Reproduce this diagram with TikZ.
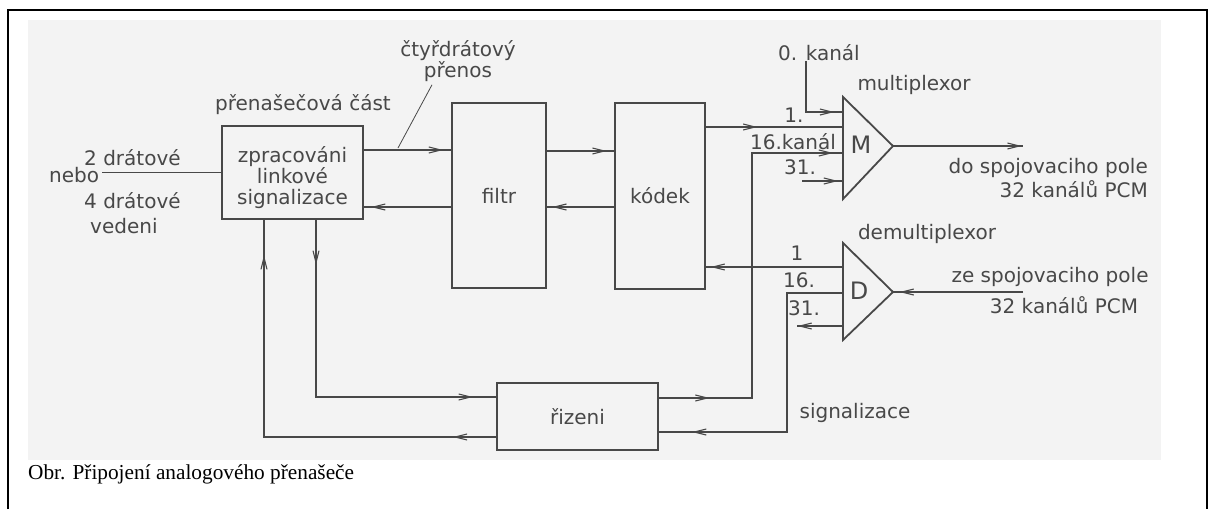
\documentclass[tikz,border=0pt]{standalone}
\usepackage{fontspec}
\setmainfont{Liberation Serif}
\newfontfamily\techfont{DejaVu Sans}
\usetikzlibrary{arrows.meta, positioning, calc, decorations.markings}
\definecolor{ink}{RGB}{72,72,72}
\definecolor{scan}{RGB}{243,243,243}

\tikzset{
  blok/.style={draw=ink, line width=1.8pt, inner sep=0pt, outer sep=0pt},
  lbl/.style={text=ink, font=\techfont\fontsize{20}{21}\selectfont, inner sep=0pt},
  wire/.style={draw=ink, line width=1.1pt},
  arr/.style={postaction={decorate, decoration={markings,
      mark=at position #1 with {\arrow{Straight Barb[length=12pt,width=6pt,line width=1.1pt]}}}}},
}

\begin{document}
\begin{tikzpicture}[x=1pt, y=-1pt]
  \useasboundingbox (0,0) rectangle (1209,509);
  \fill[scan] (28,20) rectangle (1161,460);
  \draw[line width=2pt] (8,509) -- (8,10) -- (1207,10) -- (1207,509);

  % bloky
  \node[blok, minimum width=141pt, minimum height=93pt] (zpr) at (292.5,172.5) {};
  \node[lbl, align=center] (zprtxt) at (292.5,178) {zpracováni\\linkové\\signalizace};
  \node[blok, lbl, minimum width=94pt, minimum height=185pt] (filtr) at (499,195.5) {filtr};
  \node[blok, lbl, minimum width=90pt, minimum height=186pt] (kodek) at (660,196) {kódek};
  \node[blok, lbl, minimum width=161pt, minimum height=67pt] (rizeni) at (577.5,416.5) {řizeni};

  % multiplexor a demultiplexor
  \coordinate (mux) at (843,146);
  \coordinate (mtip) at (893,146);
  \draw[blok, line join=miter] (843,97) -- (mtip) -- (843,199) -- cycle;
  \node[lbl, font=\techfont\fontsize{24}{26}\selectfont] (mm) at (861,145) {M};
  \coordinate (demux) at (843,292);
  \coordinate (dtip) at (893,292);
  \draw[blok, line join=miter] (843,243) -- (dtip) -- (843,340) -- cycle;
  \node[lbl, font=\techfont\fontsize{24}{26}\selectfont] (dd) at (859,291) {D};

  % popisy vlevo
  \node[lbl, anchor=base west] (dva) at (84,165) {2 drátové};
  \node[lbl, anchor=base west] (nebo) at (49,182) {nebo};
  \node[lbl, anchor=base west] (ctyri) at (84,208) {4 drátové};
  \node[lbl, anchor=base west] (vedeni) at (90,233) {vedeni};
  \node[lbl] (cast) at (303,105) {přenašečová část};
  \node[lbl, align=center] (prenos) at (458,61) {čtyřdrátový\\přenos};

  % popisy vpravo
  \node[lbl] (k0) at (819,53) {0. kanál};
  \node[lbl] (multi) at (914,85) {multiplexor};
  \node[lbl] (m1) at (794,115) {1.};
  \node[lbl] (m16) at (793,142) {16.kanál};
  \node[lbl] (m31) at (800,167) {31.};
  \node[lbl, anchor=east] (dopole) at (1148,168) {do spojovaciho pole};
  \node[lbl, anchor=east] (dopcm) at (1148,189) {32 kanálů PCM};
  \node[lbl] (demulti) at (927,234) {demultiplexor};
  \node[lbl] (d1) at (797,253) {1};
  \node[lbl] (d16) at (799,280) {16.};
  \node[lbl] (d31) at (804,308) {31.};
  \node[lbl] (zepole) at (1050,277) {ze spojovaciho pole};
  \node[lbl] (zepcm) at (1064,305) {32 kanálů PCM};
  \node[lbl] (sig) at (855,413) {signalizace};

  \node[anchor=base west, font=\fontsize{21.3}{24}\selectfont, inner sep=0pt] (obr) at (28,479) {Obr. Připojení analogového přenašeče};

  % spoje
  \coordinate (leader) at (398,148);
  \coordinate (in31) at (802,181);
  \coordinate (mout) at (1023,146);
  \coordinate (din) at (1023,292);
  \coordinate (out31) at (797,326);
  \draw[wire] ([xshift=3pt]nebo.east |- zpr.west) -- (zpr.west);
  \draw[ink, line width=0.8pt] ([xshift=-26pt,yshift=-3pt]prenos.south) -- (leader);
  \draw[wire, arr=0.9] (zpr.east |- 0,150) -- (filtr.west |- 0,150);
  \draw[wire, arr=0.91] (filtr.west |- 0,207) -- (zpr.east |- 0,207);
  \draw[wire, arr=0.88] (filtr.east |- 0,151) -- (kodek.west |- 0,151);
  \draw[wire, arr=0.91] (kodek.west |- 0,207) -- (filtr.east |- 0,207);
  \draw[wire, arr=0.38] (kodek.east |- 0,127) -- (mux |- 0,127);
  \draw[wire, arr=0.9] ([xshift=-13pt]k0.south) |- (mux |- 0,112);
  \draw[wire, arr=0.12, arr=0.977] ([yshift=18.5pt]rizeni.east) -| (752,153) -- (mux |- 0,153);
  \draw[wire, arr=0.88] (in31) -- (mux |- 0,181);
  \draw[wire, arr=0.99] (mtip) -- (mout);
  \draw[wire, arr=0.95] (din) -- (dtip);
  \draw[wire, arr=0.96] (demux |- 0,267) -- (kodek.east |- 0,267);
  \draw[wire, arr=0.895] (demux |- 0,293) -| (787,432) -- ([yshift=-15.5pt]rizeni.east);
  \draw[wire, arr=0.99] (demux |- 0,326) -- (out31);
  \draw[wire, arr=0.128, arr=0.933] ([xshift=23.5pt]zpr.south) |- ([yshift=19.5pt]rizeni.west);
  \draw[wire, arr=0.098, arr=0.92] ([yshift=-20.5pt]rizeni.west) -| ([xshift=-28.5pt]zpr.south);
\end{tikzpicture}
\end{document}
